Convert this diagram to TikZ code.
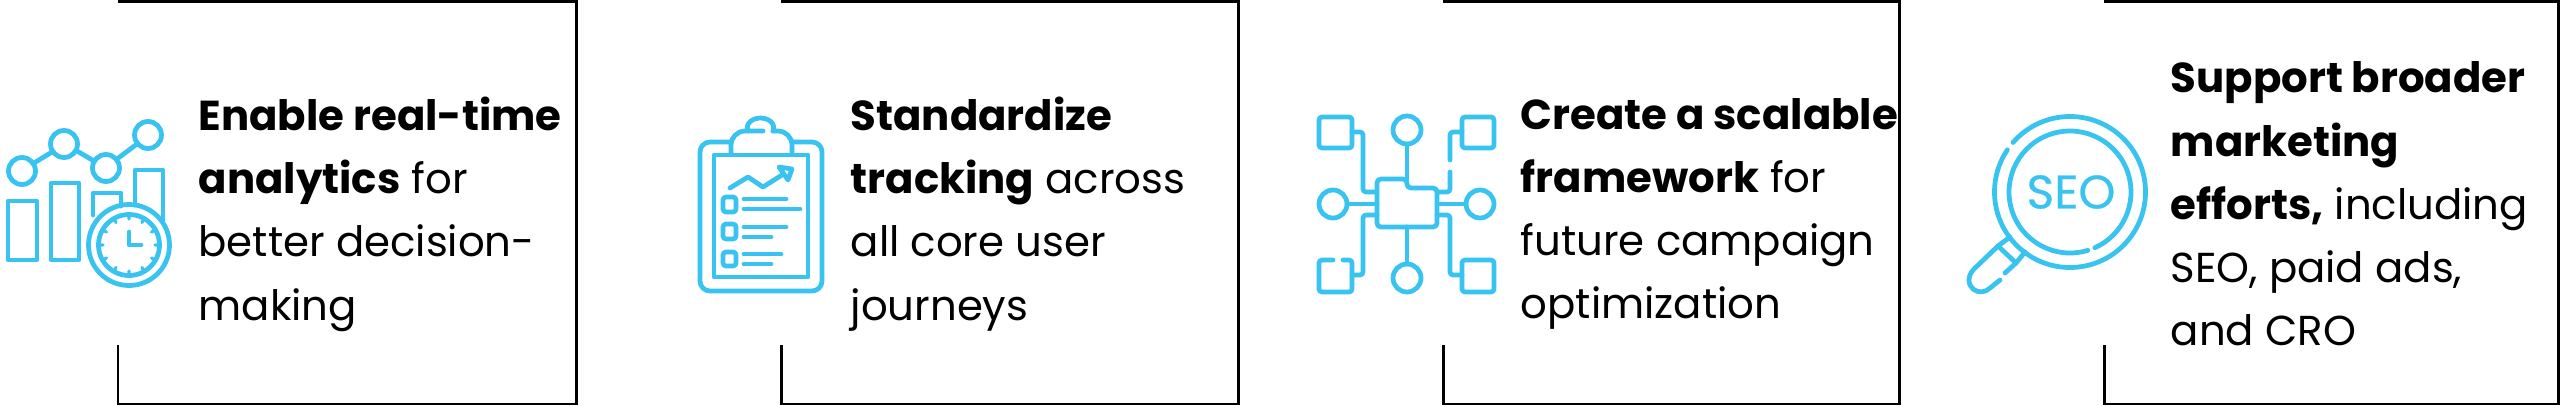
\documentclass[tikz,border=0pt]{standalone}
\usepackage{fontspec}
\setmainfont{Poppins}
\newfontfamily\seofont[FakeBold=0.5]{Poppins}
\usepackage{xcolor}
\usetikzlibrary{arrows, positioning, calc}
\definecolor{iconblue}{HTML}{38C3F0}
\tikzstyle{frameline} = [black, line width=0.85pt, line join=miter]
\tikzstyle{iconline} = [iconblue, line width=1.35pt, line cap=round, line join=round]
\tikzstyle{cardtext} = [anchor=west, align=left, inner sep=0, font=\fontsize{11.9}{18}\selectfont]

\begin{document}
\begin{tikzpicture}[x=0.01cm, y=-0.01cm]

\path [use as bounding box, fill=white] (0, 0) rectangle (2560, 406);

% Frames
\draw [frameline] (118, 345) -- (118, 404) -- (576, 404) -- (576, 1.5) -- (118, 1.5);
\draw [frameline] (781, 345) -- (781, 404) -- (1238, 404) -- (1238, 1.5) -- (781, 1.5);
\draw [frameline] (1443, 345) -- (1443, 404) -- (1899, 404) -- (1899, 1.5) -- (1443, 1.5);
\draw [frameline] (2104, 345) -- (2104, 404) -- (2558.5, 404) -- (2558.5, 1.5) -- (2104, 1.5);

% Texts
\node [cardtext] (analyticstext) at (198, 214) {\textbf{Enable real-time}\\\textbf{analytics} for\\better decision-\\making};
\node [cardtext] (trackingtext) at (850, 214) {\textbf{Standardize}\\\textbf{tracking} across\\all core user\\journeys};
\node [cardtext] (frameworktext) at (1520, 214) {\textbf{Create a scalable}\\\textbf{framework} for\\future campaign\\optimization};
\node [cardtext] (effortstext) at (2170, 204) {\textbf{Support broader}\\\textbf{marketing}\\\textbf{efforts,} including\\SEO, paid ads,\\and CRO};

% Analytics icon
\draw [iconline] (8, 201) rectangle (37, 260);
\draw [iconline] (51, 183) rectangle (79, 260);
\draw [iconline] (93, 215) -- (93, 193) -- (121, 193) -- (121, 206);
\draw [iconline] (135, 205) -- (135, 170) -- (163, 170) -- (163, 222);
\draw [iconline] (22, 171) circle (13.5);
\draw [iconline] (64, 144) circle (13.5);
\draw [iconline] (106, 168) circle (13.5);
\draw [iconline] (148, 135) circle (13.5);
\draw [iconline] (34, 163) -- (52, 152);
\draw [iconline] (77, 151) -- (94, 161);
\draw [iconline] (117, 159) -- (137, 144);
\draw [iconline] (129, 245) circle (40.5);
\draw [iconline] (129, 245) circle (30.5);
\begin{scope}[shift={(129, 245)}]
\draw [iconline, line width=0.9pt] (0:26) -- (0:30) (30:26) -- (30:30) (60:26) -- (60:30) (90:26) -- (90:30) (120:26) -- (120:30) (150:26) -- (150:30) (180:26) -- (180:30) (210:26) -- (210:30) (240:26) -- (240:30) (270:26) -- (270:30) (300:26) -- (300:30) (330:26) -- (330:30);
\draw [iconline] (0, -13) -- (0, 0) -- (12, 0);
\end{scope}

% Clipboard icon
\draw [iconline, rounded corners=2.85pt] (731, 142) -- (700, 142) -- (700, 291) -- (822, 291) -- (822, 142) -- (792, 142);
\draw [iconline, line cap=butt] (714, 155) rectangle (808, 277);
\draw [iconline, rounded corners=4pt] (731, 153) -- (731, 131) -- (763, 131);
\draw [iconline, rounded corners=4pt] (773, 131) -- (792, 131) -- (792, 153);
\draw [iconline] (748, 131) .. controls (745, 124) and (752, 118) .. (760.5, 118) .. controls (769, 118) and (776, 124) .. (773, 131);
\draw [iconline] (730, 188) -- (748, 177) -- (763, 187) -- (782, 175);
\draw [iconline] (779, 167) -- (792, 169) -- (788, 180) -- cycle;
\draw [iconline, rounded corners=0.85pt] (723, 197) rectangle (736, 212);
\draw [iconline, rounded corners=0.85pt] (723, 224) rectangle (736, 239);
\draw [iconline, rounded corners=0.85pt] (723, 252) rectangle (736, 266);
\draw [iconline] (744, 199) -- (786, 199);
\draw [iconline] (744, 209) -- (800, 209);
\draw [iconline] (744, 227) -- (786, 227);
\draw [iconline] (744, 237) -- (771, 237);
\draw [iconline] (744, 254) -- (781, 254);
\draw [iconline] (744, 264) -- (771, 264);

% Network icon
\draw [iconline, rounded corners=0.85pt] (1319, 117) rectangle (1352, 148);
\draw [iconline, rounded corners=0.85pt] (1462, 117) rectangle (1494, 148);
\draw [iconline, rounded corners=0.85pt] (1333, 260) -- (1319, 260) -- (1319, 292) -- (1352, 292) -- (1352, 260) -- (1343, 260);
\draw [iconline, rounded corners=0.85pt] (1462, 260) rectangle (1494, 292);
\draw [iconline] (1407, 130) circle (14);
\draw [iconline] (1407, 278) circle (14);
\draw [iconline] (1333, 204) circle (14);
\draw [iconline] (1480, 204) circle (14);
\draw [iconline, rounded corners=1.1pt] (1407, 179) -- (1377, 179) -- (1377, 227) -- (1437, 227) -- (1437, 188) -- (1407, 188) -- cycle;
\draw [iconline] (1407, 144) -- (1407, 179);
\draw [iconline] (1407, 227) -- (1407, 264);
\draw [iconline] (1347, 204) -- (1377, 204);
\draw [iconline] (1437, 204) -- (1466, 204);
\draw [iconline, rounded corners=0.85pt] (1352, 132) -- (1363, 132) -- (1363, 192) -- (1377, 192);
\draw [iconline, rounded corners=0.85pt] (1462, 132) -- (1450, 132) -- (1450, 160);
\draw [iconline, rounded corners=0.85pt] (1450, 172) -- (1450, 192) -- (1437, 192);
\draw [iconline, rounded corners=0.85pt] (1377, 215) -- (1363, 215) -- (1363, 275) -- (1352, 275);
\draw [iconline, rounded corners=0.85pt] (1437, 215) -- (1450, 215) -- (1450, 275) -- (1462, 275);

% Magnifier icon
\draw [iconline] ([shift={(2070, 192)}]-139:75.5) arc [start angle=-139, end angle=214, radius=75.5];
\draw [iconline] ([shift={(2070, 192)}]73:61) arc [start angle=73, end angle=426, radius=61];
\node [iconblue, inner sep=0, font=\fontsize{13.4}{14}\seofont] (seolabel) at (2071, 192) {SEO};
\draw [iconline] (2010, 237) -- (1998, 246) -- (2016, 263) -- (2025, 252);
\draw [iconline] (1998, 246) -- (1974, 269) .. controls (1967, 276) and (1968, 285) .. (1973, 289) .. controls (1978, 293) and (1985, 293) .. (1990, 288) -- (2000, 280);
\draw [iconline] (2005, 273) -- (2016, 263);

\end{tikzpicture}
\end{document}
